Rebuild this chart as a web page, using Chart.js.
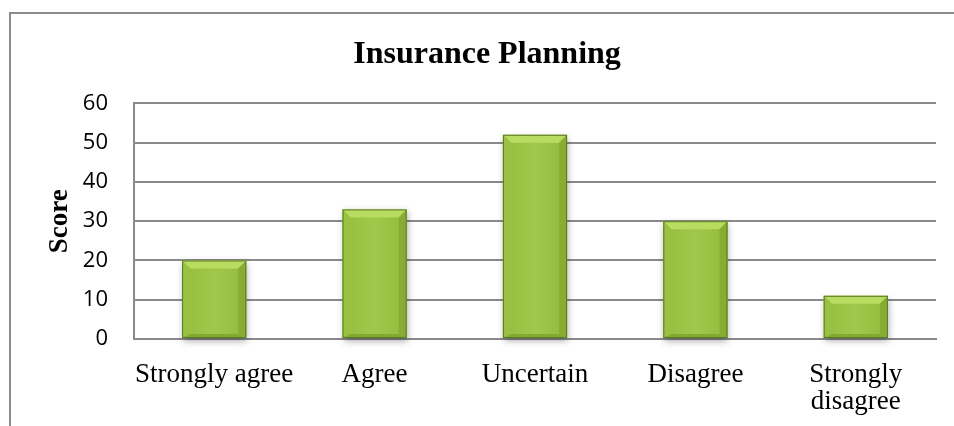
<!DOCTYPE html>
<html>
<head>
<meta charset="utf-8">
<script src="https://cdn.jsdelivr.net/npm/chart.js@4"></script>
<style>
    html, body { margin: 0; padding: 0; background: #fff; }
    #wrap { position: relative; width: 954px; height: 426px; overflow: hidden; }
    #frame {
        position: absolute; left: 9px; top: 12px; width: 960px; height: 430px;
        border-top: 2px solid #8c8c8c; border-left: 2px solid #8c8c8c;
        box-sizing: border-box;
    }
    canvas { position: absolute; left: 0; top: 0; }
</style>
</head>
<body>
<div id="wrap">
    <div id="frame"></div>
    <canvas id="chart" width="954" height="426"></canvas>
</div>
<script>
// 数据
const categories = ['Strongly agree', 'Agree', 'Uncertain', 'Disagree', ['Strongly', 'disagree']];
const scores = [20, 33, 52, 30, 11];
const yTicks = [0, 10, 20, 30, 40, 50, 60];

const chartTitle = 'Insurance Planning';
const yTitle = 'Score';

// 柱子的斜面效果
const bevelPlugin = {
    id: 'bevel',
    afterDatasetsDraw(chart) {
        const ctx = chart.ctx;
        const meta = chart.getDatasetMeta(0);
        meta.data.forEach(bar => {
            const p = bar.getProps(['x', 'y', 'base', 'width'], true);
            const l = p.x - p.width / 2, r = p.x + p.width / 2;
            const t = p.y, b = p.base;
            const bv = Math.min(8, (b - t) / 3);
            const bb = Math.min(4, (b - t) / 6);

            ctx.save();
            // 正面
            const face = ctx.createLinearGradient(l, 0, r, 0);
            face.addColorStop(0, '#94bd3e');
            face.addColorStop(0.5, '#a1c84b');
            face.addColorStop(1, '#92ba3b');
            ctx.fillStyle = face;
            ctx.fillRect(l + bv, t + bv, p.width - 2 * bv, b - t - bv - bb);

            // 上斜面
            ctx.fillStyle = '#b8dc60';
            poly(ctx, [[l, t], [r, t], [r - bv, t + bv], [l + bv, t + bv]]);
            // 左斜面
            ctx.fillStyle = '#99c142';
            poly(ctx, [[l, t], [l + bv, t + bv], [l + bv, b - bb], [l, b]]);
            // 右斜面
            ctx.fillStyle = '#86ad32';
            poly(ctx, [[r, t], [r - bv, t + bv], [r - bv, b - bb], [r, b]]);
            // 下斜面
            ctx.fillStyle = '#84a931';
            poly(ctx, [[l, b], [l + bv, b - bb], [r - bv, b - bb], [r, b]]);

            // 边框
            ctx.strokeStyle = '#5b7a24';
            ctx.lineWidth = 1;
            ctx.strokeRect(l + 0.5, t + 0.5, p.width - 1, b - t - 1);
            ctx.restore();
        });
    }
};

function poly(ctx, pts) {
    ctx.beginPath();
    ctx.moveTo(pts[0][0], pts[0][1]);
    for (let i = 1; i < pts.length; i++) ctx.lineTo(pts[i][0], pts[i][1]);
    ctx.closePath();
    ctx.fill();
}

// 柱子阴影
const shadowPlugin = {
    id: 'barShadow',
    beforeDatasetsDraw(chart) {
        const ctx = chart.ctx;
        ctx.save();
        ctx.shadowColor = 'rgba(0,0,0,0.35)';
        ctx.shadowBlur = 7;
        ctx.shadowOffsetX = 1;
        ctx.shadowOffsetY = 3;
    },
    afterDatasetsDraw(chart) {
        chart.ctx.restore();
    }
};

const serif = "'Liberation Serif', 'Times New Roman', serif";
const sans = "'Open Sans', 'Liberation Sans', sans-serif";
const gridColor = '#8a8a8a';

new Chart(document.getElementById('chart').getContext('2d'), {
    type: 'bar',
    data: {
        labels: categories,
        datasets: [{
            data: scores,
            backgroundColor: '#9cc443',
            borderWidth: 0,
            categoryPercentage: 1,
            barPercentage: 0.4,
            clip: false
        }]
    },
    options: {
        responsive: false,
        animation: false,
        devicePixelRatio: 1,
        layout: { padding: { left: 38, right: 18, top: 0, bottom: 0 } },
        plugins: {
            legend: { display: false },
            tooltip: { enabled: false },
            title: {
                display: true,
                text: chartTitle,
                color: '#000',
                font: { family: serif, size: 32, weight: 'bold', lineHeight: 1.2 },
                padding: { top: 36, bottom: 29 }
            }
        },
        scales: {
            x: {
                grid: { display: false, drawTicks: false },
                border: { display: true, color: gridColor, width: 2 },
                ticks: {
                    color: '#000',
                    font: { family: serif, size: 27, lineHeight: 1.0 },
                    padding: 22,
                    maxRotation: 0,
                    autoSkip: false
                },
                afterFit(scale) { scale.height = 87; }
            },
            y: {
                min: 0,
                max: 60,
                afterBuildTicks(scale) { scale.ticks = yTicks.map(v => ({ value: v })); },
                grid: { color: gridColor, lineWidth: 2, drawTicks: false },
                border: { display: true, color: gridColor, width: 2 },
                ticks: {
                    color: '#000',
                    font: { family: sans, size: 22 },
                    padding: 26
                },
                title: {
                    display: true,
                    text: yTitle,
                    color: '#000',
                    font: { family: serif, size: 27, weight: 'bold', lineHeight: 1.2 },
                    padding: { top: 6, bottom: 0 }
                },
                afterFit(scale) { scale.width = 96; }
            }
        }
    },
    plugins: [shadowPlugin, bevelPlugin]
});
</script>
</body>
</html>
